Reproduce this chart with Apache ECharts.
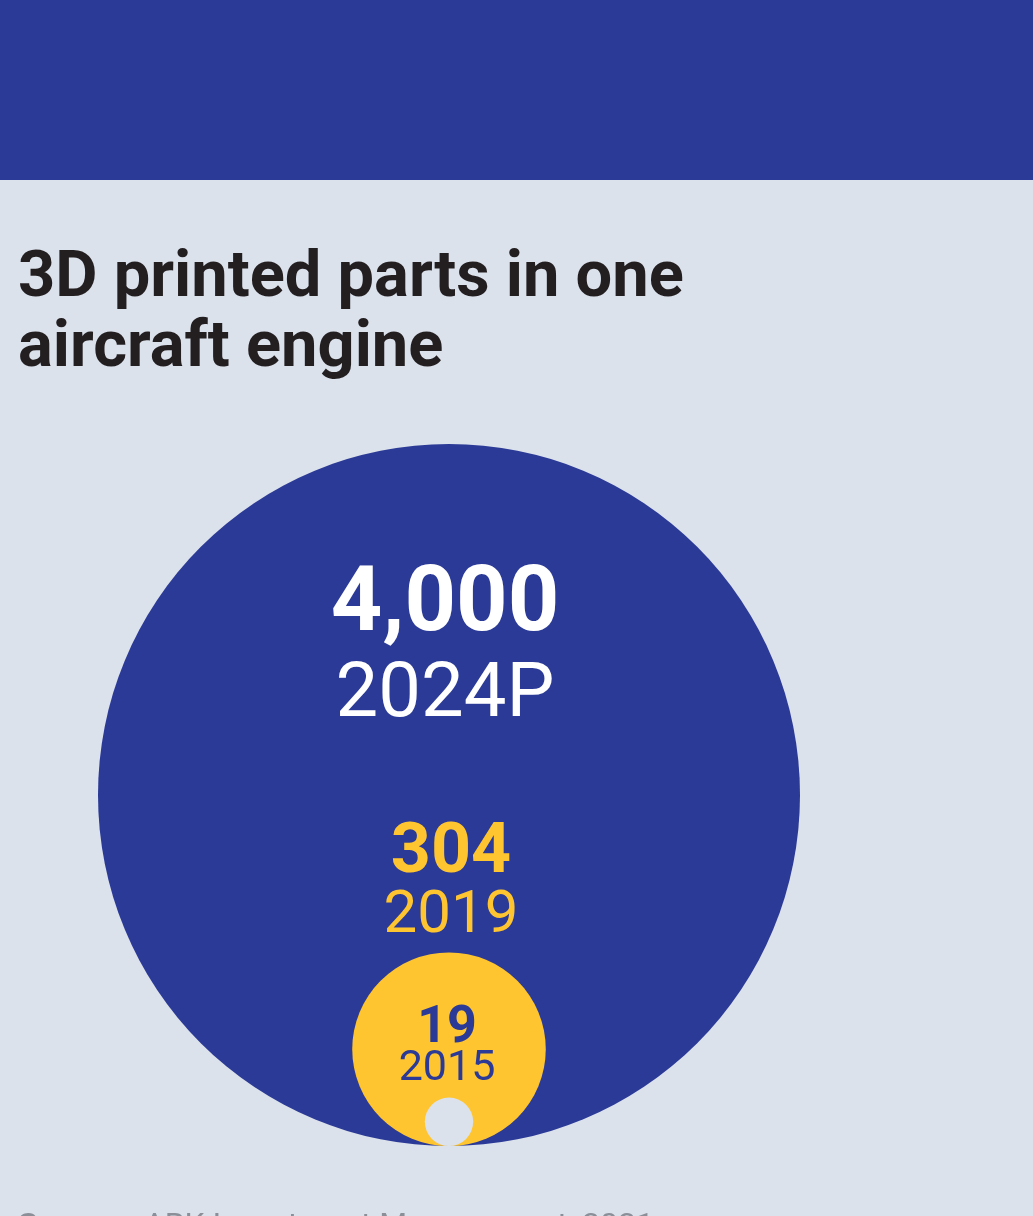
<!DOCTYPE html>
<html>
<head>
<meta charset="utf-8">
<script src="https://cdn.jsdelivr.net/npm/echarts@6/dist/echarts.min.js"></script>
<style>
html,body{margin:0;padding:0;background:#dce2ec;}
#chart{width:1033px;height:1216px;}
</style>
</head>
<body>
<div id="chart"></div>
<script>
// ---- data ----
const years = ['2024P', '2019', '2015'];
const values = [4000, 304, 19];
const valueLabels = ['4,000', '304', '19'];
const titleText = '3D printed parts in one\naircraft engine';
const sourceLabel = 'Source:';
const sourceText = 'ARK Investment Management, 2021';

// ---- styles ----
const BLUE = '#2b3a96';
const YELLOW = '#fec530';
const BG = '#dce2ec';
const circleColors = [BLUE, YELLOW, BG];
const labelColors = ['#ffffff', YELLOW, BLUE];
// label layout: offsets of text centres from the top of each circle
const labelLayout = [
  { numSize: 90, yearSize: 76, numDy: 163, yearDy: 253, dx: -4 },
  { numSize: 70, yearSize: 60, numDy: -98, yearDy: -35, dx: 2 },
  { numSize: 52, yearSize: 43, numDy: -69, yearDy: -28, dx: -2 }
];

const radii = values.map(v => Math.sqrt(v));
const maxR = Math.max.apply(null, radii);
const seriesData = values.map((v, i) => [0, radii[i], v]);

const chart = echarts.init(document.getElementById('chart'), null, { renderer: 'canvas' });

chart.setOption({
  backgroundColor: BG,
  animation: false,
  title: {
    text: titleText,
    left: 13,
    top: 240,
    textStyle: {
      fontFamily: 'Roboto',
      fontWeight: 'bold',
      fontSize: 65,
      lineHeight: 70,
      color: '#231f20'
    }
  },
  grid: { left: 98, width: 702, top: 444, height: 702 },
  xAxis: { type: 'value', min: -maxR, max: maxR, show: false },
  yAxis: { type: 'value', min: 0, max: 2 * maxR, show: false },
  graphic: [
    { type: 'rect', left: 0, top: 0, shape: { width: 1033, height: 180 }, style: { fill: BLUE }, z: 0 },
    {
      type: 'text', left: 18, top: 1211,
      style: {
        text: '{b|' + sourceLabel + '}  ' + sourceText,
        font: '32px Roboto',
        fill: '#8a8f98',
        rich: { b: { fontWeight: 'bold', fontSize: 32, fontFamily: 'Roboto', fill: '#8a8f98' } }
      }
    }
  ],
  series: [{
    type: 'custom',
    coordinateSystem: 'cartesian2d',
    data: seriesData,
    renderItem: function (params, api) {
      const i = params.dataIndex;
      const c = api.coord([api.value(0), api.value(1)]);
      const r = api.size([0, api.value(1)])[1];
      const top = c[1] - r;
      const L = labelLayout[i];
      return {
        type: 'group',
        children: [
          { type: 'circle', shape: { cx: c[0], cy: c[1], r: r }, style: { fill: circleColors[i] }, z2: 1 },
          {
            type: 'text', z2: 10,
            style: {
              text: valueLabels[i], x: c[0] + L.dx, y: top + L.numDy,
              align: 'center', verticalAlign: 'middle',
              fill: labelColors[i],
              font: 'bold ' + L.numSize + 'px Roboto'
            }
          },
          {
            type: 'text', z2: 10,
            style: {
              text: years[i], x: c[0] + L.dx, y: top + L.yearDy,
              align: 'center', verticalAlign: 'middle',
              fill: labelColors[i],
              font: L.yearSize + 'px Roboto'
            }
          }
        ]
      };
    }
  }]
});
</script>
</body>
</html>
